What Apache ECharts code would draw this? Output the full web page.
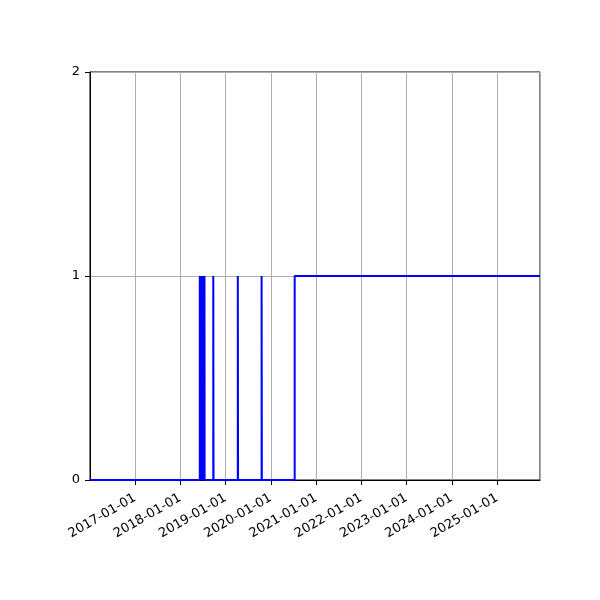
<!DOCTYPE html>
<html>
<head>
<meta charset="utf-8">
<script src="https://cdn.jsdelivr.net/npm/echarts@6/dist/echarts.min.js"></script>
<style>html,body{margin:0;padding:0;background:#fff}#c{width:600px;height:600px}</style>
</head>
<body>
<div id="c"></div>
<script>
const dates = [
  '2016-01-01',
  '2018-06-07','2018-06-08','2018-06-09','2018-06-10','2018-06-11','2018-06-12',
  '2018-06-13','2018-06-14','2018-06-15','2018-06-16','2018-06-17','2018-06-18',
  '2018-06-19','2018-06-20','2018-06-21','2018-06-22','2018-06-23','2018-06-24',
  '2018-06-25','2018-06-26','2018-06-27','2018-06-28','2018-06-29','2018-06-30',
  '2018-07-01','2018-07-02','2018-07-03','2018-07-04','2018-07-05','2018-07-06',
  '2018-07-07','2018-07-08','2018-07-09','2018-07-10','2018-07-11','2018-07-12',
  '2018-07-13','2018-07-14','2018-07-15','2018-07-16',
  '2018-09-24','2018-09-26',
  '2019-04-10','2019-04-12',
  '2019-10-19','2019-10-21',
  '2020-07-12',
  '2025-12-13'
];
const values = [
  0,
  1,0,1,0,1,0,
  1,0,1,0,1,0,
  1,0,1,0,1,0,
  1,0,1,0,1,0,
  1,0,1,0,1,0,
  1,0,1,0,1,0,
  1,0,1,0,
  1,0,
  1,0,
  1,0,
  1,
  1
];
const yTicks = [0, 1, 2];
const xMin = '2016-01-03';
const xMax = '2025-12-13';

const chart = echarts.init(document.getElementById('c'));
const font = 'DejaVu Sans';
chart.setOption({
  animation: false,
  grid: { left: 90, right: 60, top: 72, bottom: 120, show: true, borderColor: '#000', borderWidth: 1, backgroundColor: 'transparent' },
  xAxis: {
    type: 'time',
    min: xMin,
    max: xMax,
    splitNumber: 10,
    minInterval: 365 * 24 * 3600 * 1000,
    axisLine: { show: true, lineStyle: { color: '#000', width: 1 } },
    axisTick: { show: true, inside: false, length: 5, lineStyle: { color: '#000' } },
    axisLabel: {
      show: true, rotate: 30, color: '#000', fontFamily: font, fontSize: 13, margin: 17,
      showMinLabel: false, showMaxLabel: false,
      formatter: function (v) {
        const d = new Date(v);
        if (d.getMonth() !== 0 || d.getDate() !== 1) return '';
        return echarts.time.format(v, '{yyyy}-{MM}-{dd}', false);
      }
    },
    splitLine: { show: true, lineStyle: { color: '#b0b0b0', width: 1 } }
  },
  yAxis: {
    type: 'value',
    min: yTicks[0],
    max: yTicks[yTicks.length - 1],
    interval: 1,
    axisLine: { show: true, lineStyle: { color: '#000', width: 1 } },
    axisTick: { show: true, inside: false, length: 5, lineStyle: { color: '#000' } },
    axisLabel: { color: '#000', fontFamily: font, fontSize: 13, margin: 10, padding: [4, 0, 0, 0] },
    splitLine: { show: true, lineStyle: { color: '#b0b0b0', width: 1 } }
  },
  series: [{
    type: 'line',
    step: 'end',
    showSymbol: false,
    symbol: 'none',
    lineStyle: { color: '#0000ff', width: 2 },
    data: dates.map((d, i) => [d, values[i]])
  }]
});
</script>
</body>
</html>
